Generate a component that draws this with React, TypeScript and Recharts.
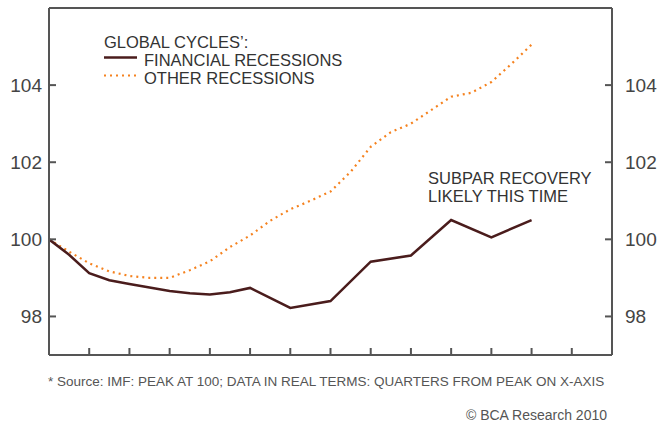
import React from 'react'
import { LineChart, Line, XAxis, YAxis, Legend } from 'recharts'

// quarters from peak, index = 100 at peak
const financialQuarters = [0, 0.5, 1, 1.5, 2, 2.5, 3, 3.5, 4, 4.5, 5, 6, 7, 8, 9, 10, 11, 12]
const financialValues = [100, 99.6, 99.12, 98.94, 98.84, 98.75, 98.66, 98.6, 98.57, 98.63, 98.74, 98.22, 98.4, 99.42, 99.58, 100.5, 100.05, 100.5]

const otherQuarters = [0, 0.5, 1, 1.5, 2, 2.5, 3, 3.5, 4, 4.5, 5, 5.5, 6, 6.5, 7, 7.5, 8, 8.5, 9, 9.5, 10, 10.5, 11, 11.5, 12]
const otherValues = [100, 99.68, 99.38, 99.17, 99.05, 99.0, 99.0, 99.2, 99.43, 99.8, 100.1, 100.48, 100.78, 101.0, 101.24, 101.75, 102.4, 102.78, 103.0, 103.35, 103.7, 103.8, 104.08, 104.55, 105.05]

const xTicks = [1, 2, 3, 4, 5, 6, 7, 8, 9, 10, 11, 12, 13]
const yTicks = [98, 100, 102, 104]

const financialData = financialQuarters.map((q, i) => ({ q, v: financialValues[i] }))
const otherData = otherQuarters.map((q, i) => ({ q, v: otherValues[i] }))

const FONT = '"Liberation Sans", Arial, Helvetica, sans-serif'
const AXIS = '#555'
const TEXT = '#333'
const FIN_COLOR = '#4a1c1c'
const OTHER_COLOR = '#f5821f'

const series = [
  { name: 'FINANCIAL RECESSIONS', color: FIN_COLOR, dash: undefined, width: 2.5 },
  { name: 'OTHER RECESSIONS', color: OTHER_COLOR, dash: '2 4', width: 2 },
]

function LegendBox() {
  return (
    <div style={{ fontFamily: FONT, fontSize: 16.5, lineHeight: '18px', color: TEXT }}>
      <div>GLOBAL CYCLES’:</div>
      {series.map((s) => (
        <div key={s.name} style={{ display: 'flex', alignItems: 'flex-start', height: 18 }}>
          <svg width={34} height={18} style={{ display: 'block' }}>
            <line x1={0} x2={33} y1={6.5} y2={6.5} stroke={s.color} strokeWidth={s.width} strokeDasharray={s.dash} />
          </svg>
          <span style={{ marginLeft: 6 }}>{s.name}</span>
        </div>
      ))}
    </div>
  )
}

export default function App() {
  const tickStyle = { fontSize: 19, fill: '#444', fontFamily: FONT }
  const line = { stroke: AXIS, strokeWidth: 2 }
  return (
    <div style={{ position: 'absolute', left: 0, top: 0, width: 658, height: 429, background: '#fff', overflow: 'hidden' }}>
      <LineChart width={658} height={429} margin={{ top: 0, right: 0, bottom: 0, left: 0 }}>
        {/* negative tickSize puts the tick marks inside the frame */}
        <XAxis
          dataKey="q"
          type="number"
          domain={[0, 14]}
          ticks={xTicks}
          allowDataOverflow
          height={74}
          tickFormatter={() => ''}
          tickSize={-7}
          tickLine={line}
          axisLine={line}
        />
        <XAxis
          xAxisId="top"
          orientation="top"
          dataKey="q"
          type="number"
          domain={[0, 14]}
          allowDataOverflow
          height={8}
          tick={false}
          tickLine={false}
          axisLine={line}
        />
        <YAxis
          yAxisId="l"
          orientation="left"
          width={49}
          domain={[97, 106]}
          ticks={yTicks}
          allowDataOverflow
          tickSize={-7}
          tickMargin={14}
          tickLine={line}
          axisLine={line}
          tick={tickStyle}
        />
        <YAxis
          yAxisId="r"
          orientation="right"
          width={46}
          domain={[97, 106]}
          ticks={yTicks}
          allowDataOverflow
          tickSize={-7}
          tickMargin={20}
          tickLine={line}
          axisLine={line}
          tick={tickStyle}
        />
        <Legend
          layout="vertical"
          align="center"
          verticalAlign="middle"
          wrapperStyle={{ position: 'absolute', left: 104, top: 33, width: 'auto' }}
          content={() => <LegendBox />}
        />
        <Line
          data={otherData}
          dataKey="v"
          xAxisId="top"
          yAxisId="l"
          type="linear"
          stroke={OTHER_COLOR}
          strokeWidth={2.2}
          strokeDasharray="2 4"
          dot={false}
          isAnimationActive={false}
        />
        <Line
          data={financialData}
          dataKey="v"
          yAxisId="r"
          type="linear"
          stroke={FIN_COLOR}
          strokeWidth={2.5}
          dot={false}
          isAnimationActive={false}
        />
      </LineChart>
      <div style={{ position: 'absolute', left: 428, top: 169, fontFamily: FONT, fontSize: 16.5, lineHeight: '18px', color: TEXT }}>
        SUBPAR RECOVERY
        <br />
        LIKELY THIS TIME
      </div>
      <div style={{ position: 'absolute', left: 48, top: 374, fontFamily: FONT, fontSize: 13.5, lineHeight: '16px', color: '#555', whiteSpace: 'nowrap' }}>
        * Source: IMF: PEAK AT 100; DATA IN REAL TERMS: QUARTERS FROM PEAK ON X-AXIS
      </div>
      <div style={{ position: 'absolute', right: 51, top: 407, fontFamily: FONT, fontSize: 14, lineHeight: '16px', color: '#555', whiteSpace: 'nowrap' }}>
        © BCA Research 2010
      </div>
    </div>
  )
}
